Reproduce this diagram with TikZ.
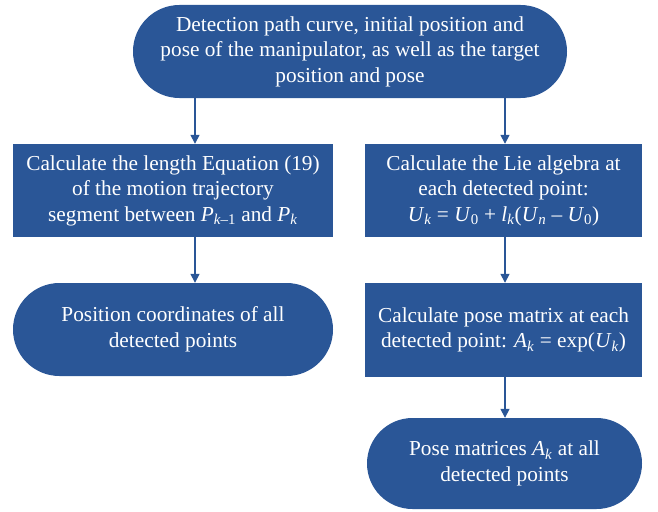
\documentclass[tikz,border=0pt]{standalone}
\usepackage{fontspec}
\setmainfont{Liberation Serif}
\usetikzlibrary{arrows.meta}
\definecolor{boxblue}{RGB}{42,86,151}
\newcommand{\iv}[1]{\textit{#1}}
\newcommand{\lsub}[1]{\textsubscript{#1}}
\tikzset{
  base/.style={fill=boxblue, text=white, align=center, inner sep=0pt,
    font=\fontsize{21.3}{25.5}\selectfont},
  boxnode/.style={base, rectangle},
  stadium/.style={base, rounded corners=#1},
  conn/.style={draw=boxblue, line width=1.5pt, -{Triangle[width=9pt,length=9pt]}}
}
\begin{document}
\begin{tikzpicture}[x=1pt,y=-1pt]
\useasboundingbox (0,0) rectangle (658,511);
\node[stadium=46.5pt, minimum width=434pt, minimum height=93pt] (top) at (350,51.5)
  {Detection path curve, initial position and\\pose of the manipulator, as well as the target\\position and pose};
\node[boxnode, minimum width=320pt, minimum height=93pt] (len) at (173,190.5)
  {Calculate the length Equation (19)\\of the motion trajectory\\segment between \iv{P}\lsub{\iv{k}–1} and \iv{P}\lsub{\iv{k}}};
\node[boxnode, minimum width=277pt, minimum height=93pt] (lie) at (503.5,190.5)
  {Calculate the Lie algebra at\\each detected point:\\\iv{U}\lsub{\iv{k}} = \iv{U}\lsub{0} + \iv{l}\lsub{\iv{k}}(\iv{U}\lsub{\iv{n}} – \iv{U}\lsub{0})};
\node[stadium=46.5pt, minimum width=320pt, minimum height=93pt] (pos) at (173,329.5)
  {Position coordinates of all\\detected points};
\node[boxnode, minimum width=277pt, minimum height=94pt] (pose) at (503.5,330)
  {Calculate pose matrix at each\\detected point: \iv{A}\lsub{\iv{k}} = exp(\iv{U}\lsub{\iv{k}})};
\node[stadium=45.5pt, minimum width=275pt, minimum height=91pt] (mat) at (504.5,463.5)
  {Pose matrices \iv{A}\lsub{\iv{k}} at all\\detected points};
\draw[conn] (top.south -| 195,0) -- (len.north -| 195,0);
\draw[conn] (top.south -| 505,0) -- (lie.north -| 505,0);
\draw[conn] (len.south -| 195,0) -- (pos.north -| 195,0);
\draw[conn] (lie.south -| 505,0) -- (pose.north -| 505,0);
\draw[conn] (pose.south -| 505,0) -- (mat.north -| 505,0);
\end{tikzpicture}
\end{document}
